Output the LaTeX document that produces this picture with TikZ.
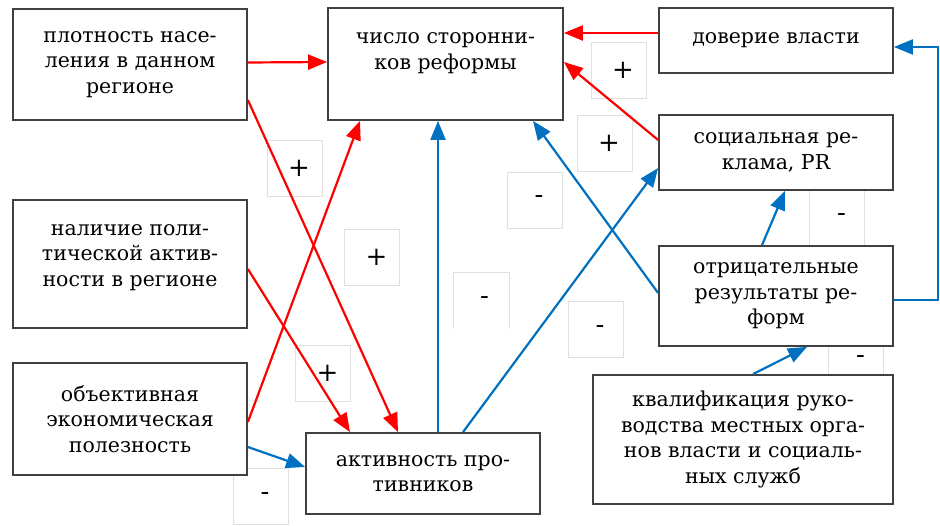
\documentclass[tikz,border=0pt]{standalone}
\usepackage{fontspec}
\setmainfont{DejaVu Serif}
\usetikzlibrary{arrows.meta}
\definecolor{plusred}{RGB}{255,0,0}
\definecolor{minusblue}{RGB}{0,112,192}

\begin{document}
\begin{tikzpicture}
  [
    x=1pt, y=-1pt,
    >={Triangle[length=19pt,width=15pt]},
    box/.style       = {draw=black!75, line width=1.8pt, fill=white, align=center,
                        inner sep=0pt, font=\fontsize{20.5}{25.5}\selectfont},
    signbox/.style   = {draw=black!12, line width=0.8pt, minimum width=55pt,
                        minimum height=56pt, inner sep=0pt,
                        font=\fontsize{26}{26}\selectfont},
    redarrow/.style  = {->, draw=plusred, line width=2.2pt},
    bluearrow/.style = {->, draw=minusblue, line width=2.2pt},
  ]
\useasboundingbox (0,0) rectangle (940,526);

%Sign boxes (+ / -) behind everything
\foreach [count=\i] \x/\y/\s in {294.5/168.5/+, 372/257/+, 323/373.5/+,
    534.5/200/-, 595.5/329.5/-, 618.5/70.5/+, 604.5/143.5/+,
    837/218/-, 856/360/-, 260.5/496.5/-}
{
\node[signbox] (s\i) at (\x,\y) {\raisebox{-4pt}{\hspace{9pt}\s}};
}
%this one has no bottom edge
\node[signbox, draw=none] (s11) at (481.5,300.5) {\raisebox{-5pt}{\hspace{6pt}-}};
\draw[black!12, line width=0.8pt] (s11.south west) -- (s11.north west)
  -- (s11.north east) -- (s11.south east);

%Main boxes
\node[box, minimum width=234pt, minimum height=111pt] (dens) at (130,64.5)
  {плотность насе-\\ления в данном\\регионе};
\node[box, minimum width=235pt, minimum height=112pt] (supp) at (445.5,64)
  {число сторонни-\\ков реформы\\\mbox{}};
\node[box, minimum width=234pt, minimum height=65pt] (trust) at (776,40.5)
  {доверие власти};
\node[box, minimum width=234pt, minimum height=75pt] (ads) at (776,152.5)
  {социальная ре-\\клама, PR};
\node[box, minimum width=234pt, minimum height=128pt] (polit) at (130,264)
  {наличие поли-\\тической актив-\\ности в регионе\\[-8pt]\mbox{}};
\node[box, minimum width=234pt, minimum height=112pt] (econ) at (130,419)
  {объективная\\экономическая\\полезность};
\node[box, minimum width=234pt, minimum height=81pt] (opp) at (423,473.5)
  {активность про-\\тивников};
\node[box, minimum width=234pt, minimum height=100pt] (negres) at (776,296)
  {отрицательные\\результаты ре-\\форм};
\node[box, minimum width=300pt, minimum height=129pt] (qual) at (743,439.5)
  {квалификация руко-\\водства местных орга-\\нов власти и социаль-\\ных служб};

%Positive links
\draw[redarrow] ([yshift=2pt]dens.east) -- ([yshift=2pt]supp.west);
\draw[redarrow] ([yshift=-35.5pt]dens.east) -- ([xshift=-25pt]opp.north);
\draw[redarrow] ([yshift=-5pt]polit.east) -- ([xshift=-73pt]opp.north);
\draw[redarrow] ([yshift=-3pt]econ.east) -- ([xshift=-85.5pt]supp.south);
\draw[redarrow] ([yshift=7.5pt]trust.west) -- ([yshift=31pt]supp.east);
\draw[redarrow] ([yshift=12.5pt]ads.west) -- ([yshift=2pt]supp.east);

%Negative links
\draw[bluearrow] ([yshift=-28pt]econ.east) -- ([yshift=6.5pt]opp.west);
\draw[bluearrow] ([xshift=15pt]opp.north) -- ([xshift=-7.5pt]supp.south);
\draw[bluearrow] ([xshift=40pt]opp.north) -- ([yshift=-15.5pt]ads.west);
\draw[bluearrow] ([yshift=3pt]negres.west) -- ([xshift=87.5pt]supp.south);
\draw[bluearrow] ([xshift=-14pt]negres.north) -- ([xshift=9pt]ads.south);
\draw[bluearrow] ([xshift=10pt]qual.north) -- ([xshift=31pt]negres.south);
\coordinate (loop) at (938,47);
\draw[bluearrow] ([yshift=-4pt]negres.east) -| (loop) -- ([yshift=-6.5pt]trust.east);
\end{tikzpicture}
\end{document}
